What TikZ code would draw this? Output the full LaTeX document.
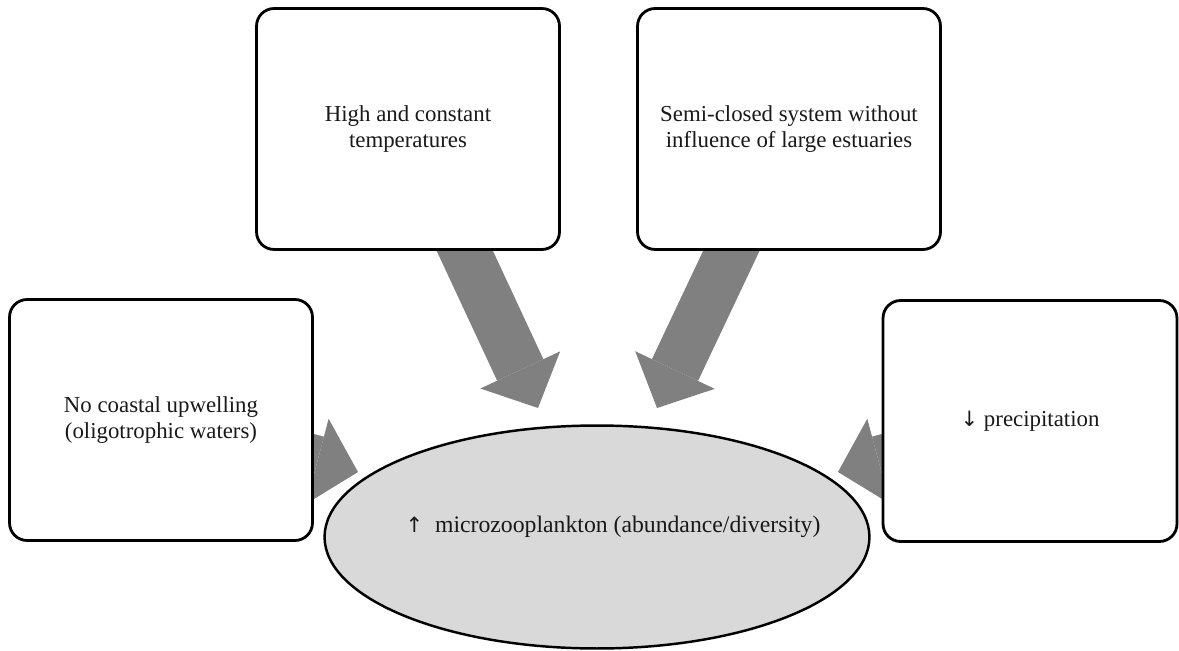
\documentclass[tikz,border=0pt]{standalone}
\usepackage{fontspec}
\setmainfont{Liberation Serif}
\newfontfamily\arrowfont{DejaVu Sans}
\usetikzlibrary{positioning,arrows.meta,backgrounds,shapes.geometric}
\definecolor{arrowgray}{RGB}{128,128,128}
\definecolor{ovalgray}{RGB}{217,217,217}
\definecolor{inkdark}{RGB}{25,25,25}

\begin{document}
\begin{tikzpicture}[x=0.02cm,y=-0.02cm,
    factor/.style={draw=black,line width=1.6pt,fill=white,rounded corners=10pt,
      minimum width=6.06cm,minimum height=4.82cm,align=center,text=inkdark,
      font=\fontsize{13}{14.5}\selectfont},
    outcome/.style={ellipse,draw=black,line width=1.4pt,fill=ovalgray,
      minimum width=10.9cm,minimum height=4.46cm,inner sep=0pt},
    push/.style={draw=arrowgray,line width=1.02cm,
      -{Triangle[width=1.76cm,length=0.84cm,line width=0pt]}}]
  \useasboundingbox (0,0) rectangle (1179,651);

  % the four driving conditions
  \node[factor] (upwell) at (161,420) {No coastal upwelling\\(oligotrophic waters)};
  \node[factor] (hot) at (408,129) {High and constant\\temperatures};
  \node[factor] (semi) at (789,129) {Semi-closed system without\\influence of large estuaries};
  \node[factor,minimum width=5.88cm] (rain) at (1030,421)
    {{\arrowfont\fontsize{12}{14}\selectfont ↓}\hspace{0.25em}precipitation};

  % the response
  \node[outcome] (plankton) at (597,537) {};
  \node[text=inkdark,font=\fontsize{13.5}{15}\selectfont] (planktontext)
    at ([shift={(16,-10)}]plankton.center)
    {{\arrowfont\fontsize{12}{14}\selectfont ↑}\hspace{0.5em}microzooplankton (abundance/diversity)};

  % arrow tips, just short of the oval
  \coordinate (tipUp) at (358,472);
  \coordinate (tipHot) at (538,408);
  \coordinate (tipSemi) at (657,408);
  \coordinate (tipRain) at (838,472);

  \begin{scope}[on background layer]
    \draw[push] (upwell.center) -- (tipUp);
    \draw[push] (hot.center) -- (tipHot);
    \draw[push] (semi.center) -- (tipSemi);
    \draw[push] (rain.center) -- (tipRain);
  \end{scope}
\end{tikzpicture}
\end{document}
